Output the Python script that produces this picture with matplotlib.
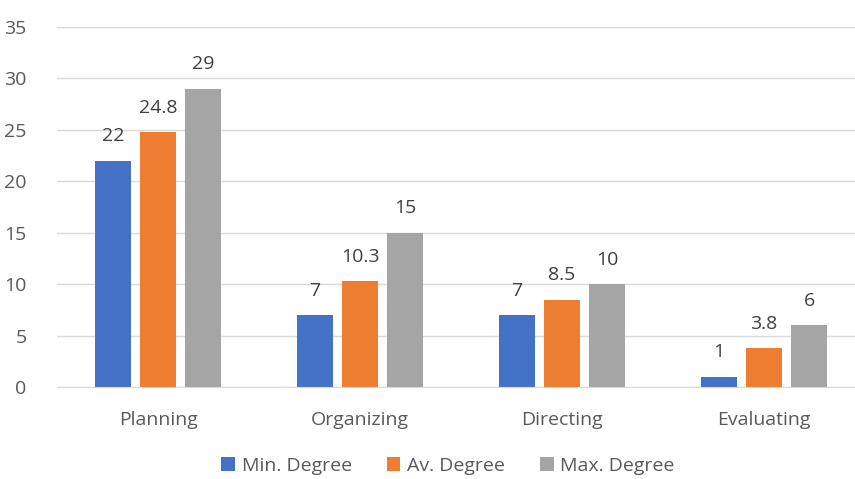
import matplotlib
matplotlib.use("Agg")
import matplotlib.pyplot as plt
import numpy as np

categories = ["Planning", "Organizing", "Directing", "Evaluating"]
series_names = ["Min. Degree", "Av. Degree", "Max. Degree"]
min_deg = [22, 7, 7, 1]
av_deg = [24.8, 10.3, 8.5, 3.8]
max_deg = [29, 15, 10, 6]
y_ticks = [0, 5, 10, 15, 20, 25, 30, 35]

colors = ["#4472C4", "#ED7D31", "#A5A5A5"]
text_color = "#595959"
plt.rcParams['font.family'] = ['Open Sans', 'DejaVu Sans']
FS = 14

W, H = 855, 479
fig = plt.figure(figsize=(W / 100, H / 100), dpi=100)
left, right = 57, 865
top, bottom = 27, 387
ax = fig.add_axes([left / W, 1 - bottom / H, (right - left) / W, (bottom - top) / H])

x = np.arange(len(categories))
width = 0.178
step = 0.223
for i, (vals, name, c) in enumerate(zip([min_deg, av_deg, max_deg], series_names, colors)):
    pos = x + (i - 1) * step
    bars = ax.bar(pos, vals, width, color=c, label=name, zorder=3)
    for b, v in zip(bars, vals):
        ax.annotate(f"{v:g}", (b.get_x() + b.get_width() / 2, v), xytext=(0, 11),
                    textcoords="offset points", ha="center", va="bottom",
                    fontsize=FS, color="#404040")

ax.set_xlim(-0.5, len(categories) - 0.5)
ax.set_ylim(0, 35)
ax.set_yticks(y_ticks)
ax.set_xticks(x)
ax.set_xticklabels(categories)
ax.tick_params(axis="both", length=0, labelsize=FS, labelcolor=text_color)
ax.tick_params(axis="x", pad=17)
ax.tick_params(axis="y", pad=22)
ax.grid(axis="y", color="#D9D9D9", linewidth=1, zorder=0)
for s in ["top", "right", "left"]:
    ax.spines[s].set_visible(False)
ax.spines["bottom"].set_color("#D9D9D9")
ax.spines["bottom"].set_zorder(4)

leg = fig.legend(loc="center", bbox_to_anchor=(448 / W, 1 - 466 / H), ncol=3, frameon=False,
                 fontsize=FS, handlelength=0.7, handleheight=0.7, handletextpad=0.35,
                 columnspacing=1.8, labelcolor=text_color)

fig.savefig("out.png", dpi=100)
